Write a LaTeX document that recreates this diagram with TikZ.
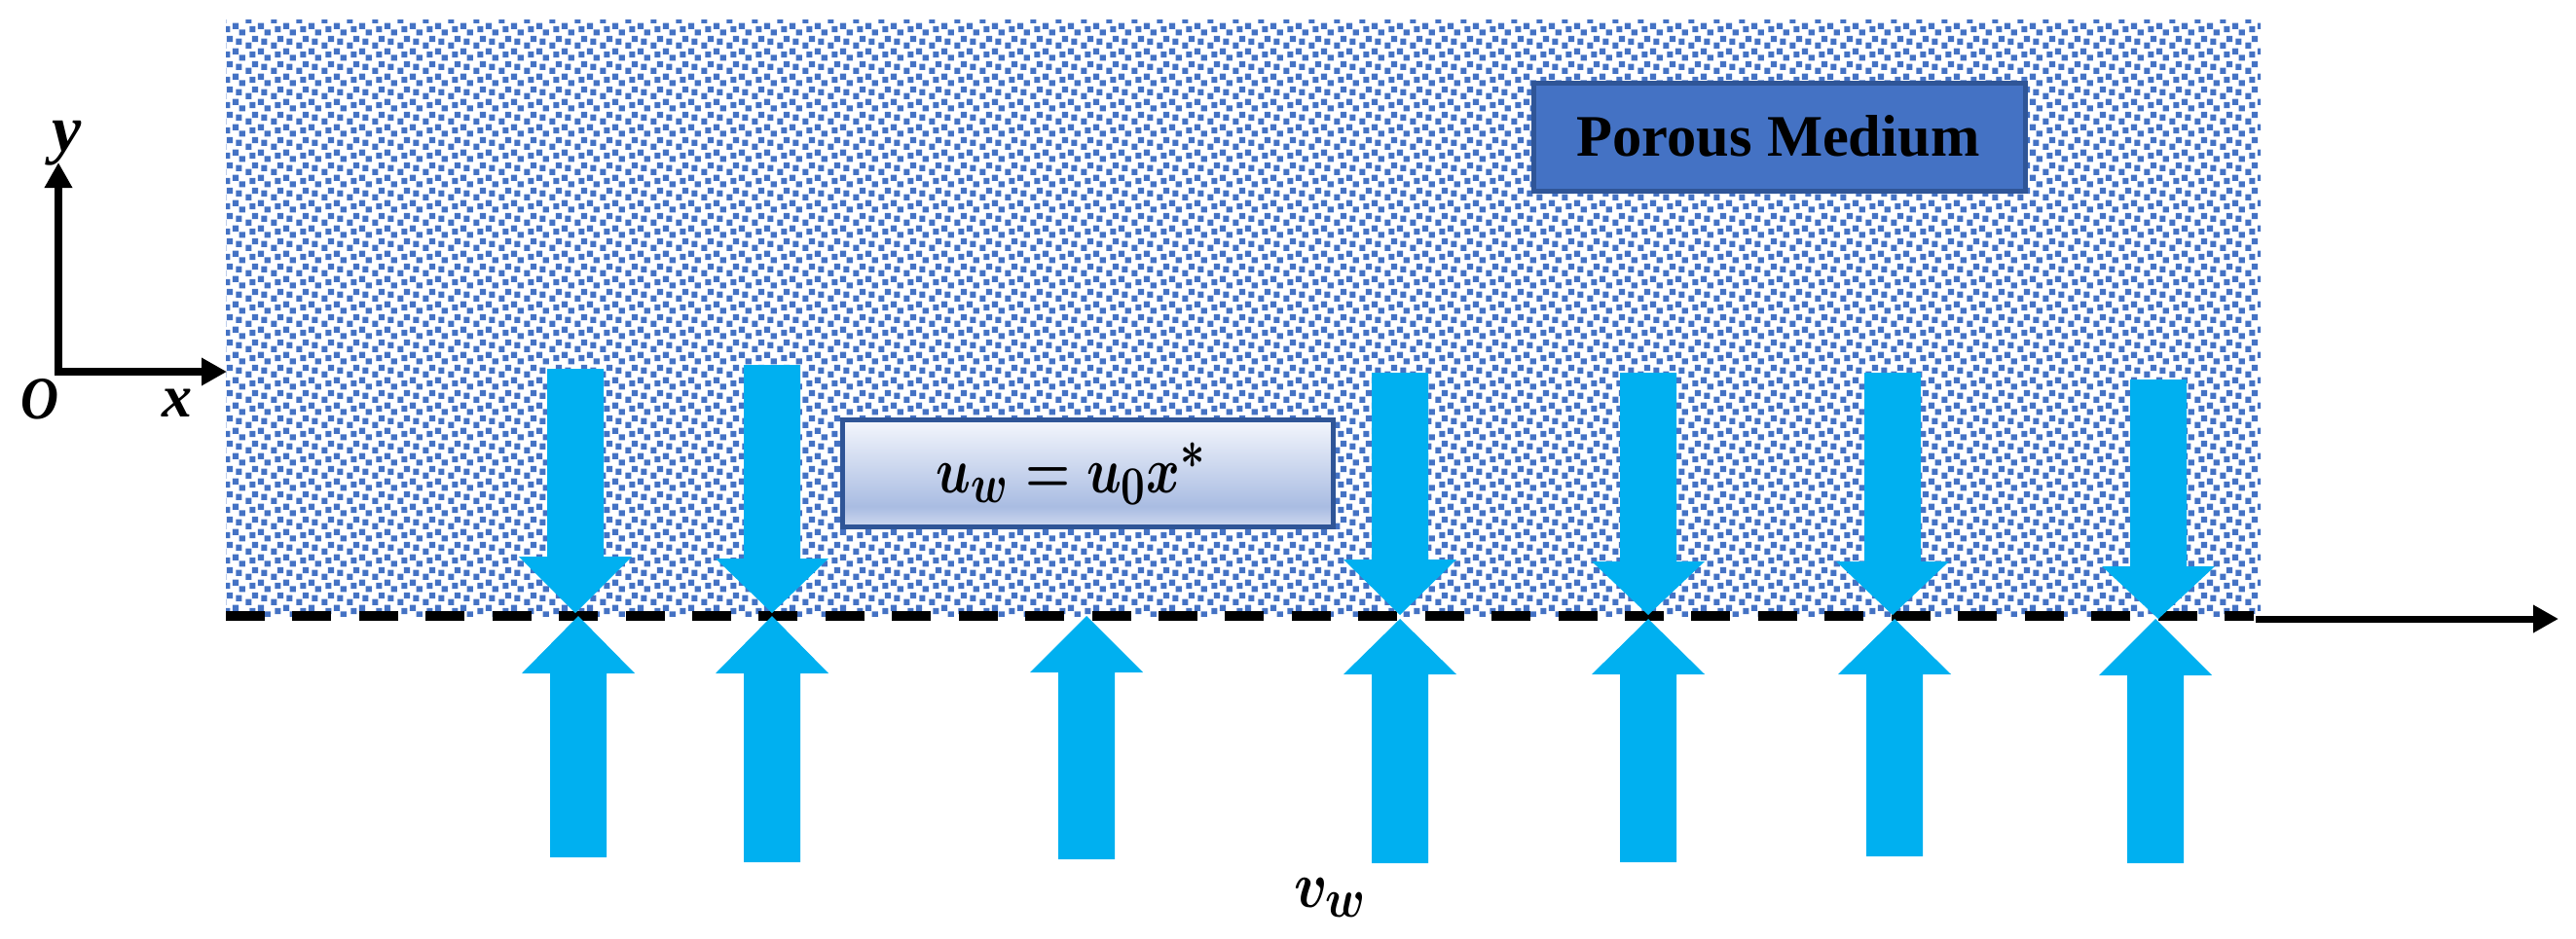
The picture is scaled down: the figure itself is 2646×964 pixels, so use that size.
\documentclass[tikz,border=0pt]{standalone}
\usepackage{fontspec}
\setmainfont{Liberation Serif}
\usetikzlibrary{arrows.meta,calc}
\definecolor{dotblue}{HTML}{4472C4}
\definecolor{edgeblue}{HTML}{2F5597}
\definecolor{flowblue}{HTML}{00B0F0}
\definecolor{gradtop}{HTML}{F2F5FC}
\definecolor{gradmid}{HTML}{A9BCE2}
\definecolor{gradbot}{HTML}{CBD6EE}
\pgfdeclareverticalshading{boxgrad}{100bp}{color(0bp)=(gradbot); color(26bp)=(gradbot); color(34.5bp)=(gradmid); color(74bp)=(gradtop); color(100bp)=(gradtop)}
\tikzset{
  axisline/.style={line width=8pt,-{Triangle[length=26pt,width=27pt]}},
  axisname/.style={anchor=base,font=\fontsize{62}{70}\selectfont\bfseries\itshape},
  mathlabel/.style={anchor=base west,inner sep=0pt,yscale=2.7,font=\fontsize{24.88}{30}\selectfont\boldmath},
  flowfill/.style={fill=flowblue,draw=none},
}
\newcommand{\downflow}[4]{% centre, top, head base, tip
  \fill[flowfill] (#1-29,#2) -- (#1+29,#2) -- (#1+29,#3) -- (#1+58,#3) -- (#1,#4) -- (#1-58,#3) -- (#1-29,#3) -- cycle;}
\newcommand{\upflow}[4]{% centre, bottom, head base, tip
  \fill[flowfill] (#1-29,#2) -- (#1+29,#2) -- (#1+29,#3) -- (#1+58,#3) -- (#1,#4) -- (#1-58,#3) -- (#1-29,#3) -- cycle;}
\begin{document}
\begin{tikzpicture}[x=1pt,y=-1pt]
\useasboundingbox (0,0) rectangle (2646,964);
% porous medium
\begin{scope}
  \clip (232,20) rectangle (2322,633);
  \foreach \i in {-1,...,80}{
    \foreach \j in {0,...,23}{
      \fill[dotblue,shift={(232+26*\i,20+26*\j)}]
        (6.95,3.65) rectangle ++(6.1,6.1)
        (-1.75,6.95) rectangle ++(6.1,6.1)
        (13.65,10.25) rectangle ++(6.2,6.2)
        (0.95,16.95) rectangle ++(6.1,6.1)
        (10.25,19.65) rectangle ++(6.1,6.1)
        (20.25,-2.35) rectangle ++(6.1,6.1);
    }
  }
\end{scope}
% boundary
\coordinate (wallL) at (232,633);
\coordinate (wallR) at (2315,633);
\draw[line width=10pt,dash pattern=on 40pt off 28.43pt] (wallL) -- (wallR);
\coordinate (extS) at (2317,636);
\coordinate (extE) at (2628,636);
\draw[line width=7pt,-{Triangle[length=26pt,width=27pt]}] (extS) -- (extE);
% axes
\coordinate (orig) at (60,382);
\coordinate (ytip) at (60,167);
\coordinate (xtip) at (233,382);
\draw[axisline,miter limit=10,{Triangle[length=26pt,width=27pt]}-{Triangle[length=26pt,width=27pt]}] (ytip) -- (orig) -- (xtip);
\node[axisname,font=\fontsize{68}{70}\selectfont\bfseries\itshape] (ylabel) at (69,155) {y};
\node[axisname] (xlabel) at (182,428) {x};
\node[axisname,xscale=.87] (olabel) at (41,430) {O};
% flows from above
\downflow{591}{379}{572}{630}
\downflow{793}{375}{574}{630}
\downflow{1438}{383}{575}{632}
\downflow{1693}{383}{577}{632}
\downflow{1944}{383}{577}{632}
\downflow{2217}{390}{582}{636}
% flows from below
\upflow{594}{881}{692}{633}
\upflow{793}{886}{692}{633}
\upflow{1116}{883}{691}{633}
\upflow{1438}{887}{693}{636}
\upflow{1693}{886}{693}{636}
\upflow{1946}{880}{693}{636}
\upflow{2214}{887}{694}{636}
% boxes
\node[draw=edgeblue,line width=5pt,fill=dotblue,minimum width=505pt,minimum height=111pt,inner sep=0pt] (porous) at (1827.5,140.5) {};
\node[anchor=base,font=\fontsize{60.5}{70}\selectfont\bfseries] (porousT) at (1826.5,160) {Porous Medium};
\node[draw=edgeblue,line width=5pt,shading=boxgrad,minimum width=504.5pt,minimum height=110pt,inner sep=0pt] (uwbox) at (1117.25,486.5) {};
\node[mathlabel,xscale=2.12] (uw) at (961,506) {$u_w = u_0 x^*$};
\node[mathlabel,xscale=2.3] (vw) at (1329,932) {$v_w$};
\end{tikzpicture}
\end{document}
